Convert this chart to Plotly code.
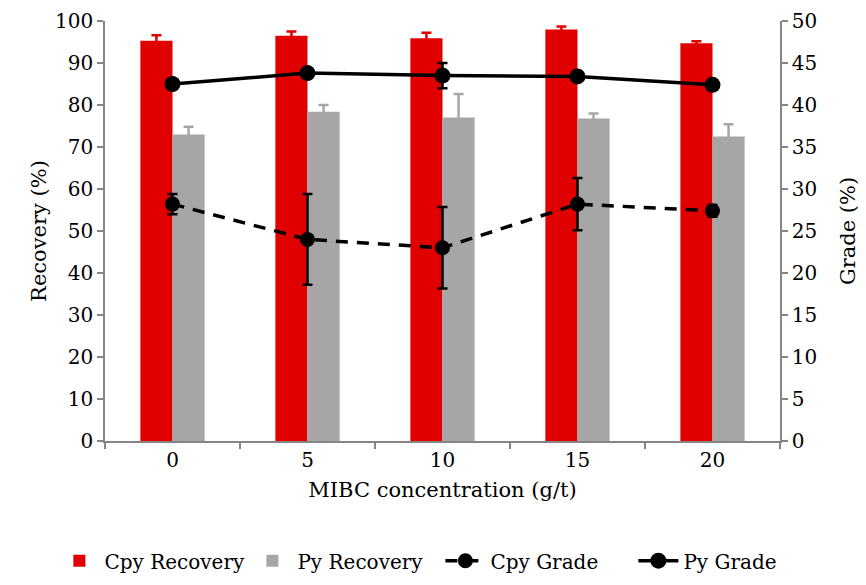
import plotly.graph_objects as go

categories = ["0", "5", "10", "15", "20"]
cpy_recovery = [95.3, 96.5, 95.9, 98.0, 94.7]
cpy_recovery_err = [1.3, 1.0, 1.3, 0.7, 0.5]
py_recovery = [73.0, 78.4, 77.0, 76.8, 72.5]
py_recovery_err = [1.8, 1.6, 5.6, 1.2, 2.9]
cpy_grade = [28.2, 24.0, 23.0, 28.2, 27.4]
cpy_grade_err = [1.2, 5.4, 4.85, 3.1, 0.7]
py_grade = [42.5, 43.8, 43.5, 43.4, 42.4]
py_grade_err = [0.5, 0.5, 1.5, 0.5, 0.5]

RED = "#E00000"
GRAY = "#A6A6A6"
AXIS = "#858585"
FONT = "DejaVu Serif"

fig = go.Figure()
fig.add_trace(go.Bar(
    x=categories, y=cpy_recovery, name="Cpy Recovery", marker_color=RED,
    marker_line_width=0,
    error_y=dict(type="data", array=cpy_recovery_err, color=RED, thickness=2.5, width=5),
))
fig.add_trace(go.Bar(
    x=categories, y=py_recovery, name="Py Recovery", marker_color=GRAY,
    marker_line_width=0,
    error_y=dict(type="data", array=py_recovery_err, color=GRAY, thickness=2.5, width=5),
))
fig.add_trace(go.Scatter(
    x=categories, y=cpy_grade, name="Cpy Grade", yaxis="y2", mode="lines+markers",
    line=dict(color="black", width=3.5, dash="12px,9px"),
    marker=dict(color="black", size=15),
    error_y=dict(type="data", array=cpy_grade_err, color="black", thickness=2.5, width=5),
))
fig.add_trace(go.Scatter(
    x=categories, y=py_grade, name="Py Grade", yaxis="y2", mode="lines+markers",
    line=dict(color="black", width=3.5),
    marker=dict(color="black", size=16),
    error_y=dict(type="data", array=py_grade_err, color="black", thickness=2.5, width=5),
))

fig.update_layout(
    width=858, height=577,
    margin=dict(l=97, r=86, t=13, b=144, autoexpand=False),
    paper_bgcolor="white", plot_bgcolor="white",
    font=dict(family=FONT, size=20, color="black"),
    barmode="group", bargap=0.524, bargroupgap=0,
    showlegend=True,
    legend=dict(orientation="h", x=-0.075, xanchor="left", y=-0.285, yanchor="middle",
                font=dict(size=20), itemwidth=40, entrywidth=138, traceorder="normal"),
    xaxis=dict(
        title=dict(text="MIBC concentration (g/t)", standoff=12, font=dict(size=21)),
        showline=True, linecolor=AXIS, linewidth=1.5, automargin=False,
        ticks="outside", tickson="boundaries", ticklen=6, tickcolor=AXIS, tickwidth=1.5,
        showgrid=False, zeroline=False, tickfont=dict(size=20),
    ),
    yaxis=dict(
        title=dict(text="Recovery (%)", standoff=3, font=dict(size=21)),
        range=[0, 100], dtick=10, showline=True, linecolor=AXIS, linewidth=1.5,
        ticks="outside", ticklen=6, tickcolor=AXIS, tickwidth=1.5, automargin=False,
        showgrid=False, zeroline=False, tickfont=dict(size=20),
    ),
    yaxis2=dict(
        title=dict(text="Grade (%)", standoff=24, font=dict(size=21)),
        range=[0, 50], dtick=5, overlaying="y", side="right",
        showline=True, linecolor=AXIS, linewidth=1.5, automargin=False,
        ticks="outside", ticklen=6, tickcolor=AXIS, tickwidth=1.5,
        showgrid=False, zeroline=False, tickfont=dict(size=20),
    ),
)

fig.write_html("out.html")
